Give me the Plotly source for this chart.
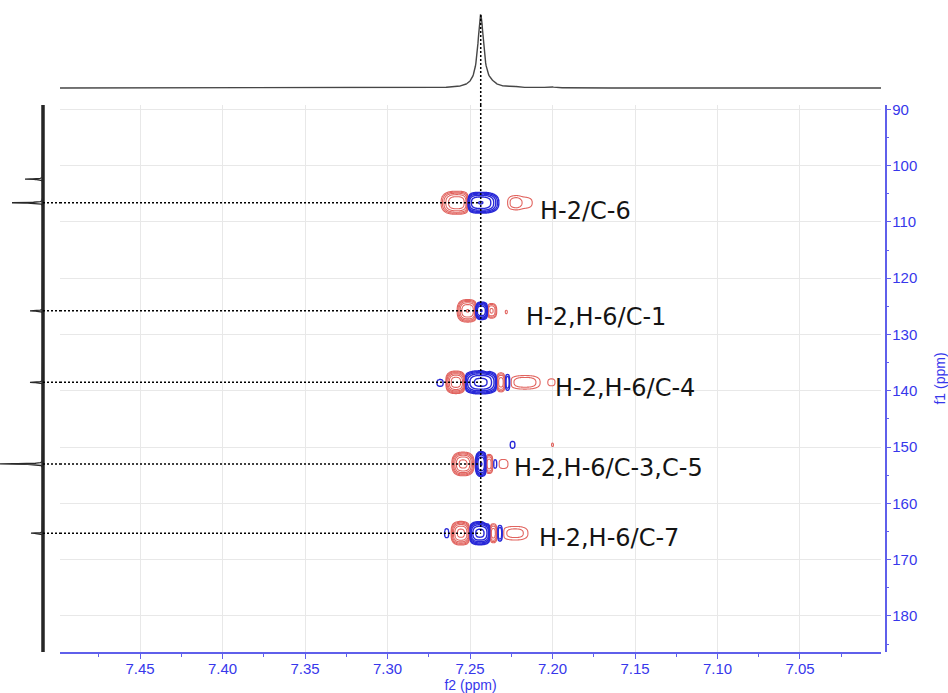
import numpy as np
import plotly.graph_objects as go

# ---------------- data ----------------
# 1D proton projection (f2, top trace): peak positions / heights / half widths
h_ppm = [7.2435, 7.2370, 7.2240, 7.2015]
h_height = [73.0, 2.0, 1.0, 1.2]
h_hwhm = [0.0021, 0.0030, 0.0025, 0.0025]

# 1D carbon projection (f1, left trace)
c_ppm = [102.4, 106.6, 125.8, 138.5, 153.0, 165.3]
c_height = [18.0, 31.0, 13.0, 13.0, 43.0, 12.0]
c_hwhm = [0.06, 0.06, 0.06, 0.06, 0.06, 0.06]

# HMBC correlations
cross_f2 = 7.2435
cross_f1 = [106.6, 125.8, 138.5, 153.0, 165.3]
cross_label = ["H-2/C-6", "H-2,H-6/C-1", "H-2,H-6/C-4", "H-2,H-6/C-3,C-5", "H-2,H-6/C-7"]
label_f2 = [7.2085, 7.2175, 7.1995, 7.2245, 7.2095]
label_f1 = [108.1, 126.9, 139.5, 153.7, 166.1]

# 2D contour components: centre f2, centre f1, signed amplitude,
# half width (f2, ppm) and half height (f1, ppm) of the outermost contour
comp_f2 = [7.2580, 7.2435, 7.2232, 7.2185,
           7.2514, 7.2432, 7.2370, 7.2280,
           7.2680, 7.2585, 7.2435, 7.2314, 7.2273, 7.2167, 7.2005, 7.2400,
           7.2542, 7.2432, 7.2385, 7.2348, 7.2298, 7.2242, 7.2000,
           7.2640, 7.2555, 7.2440, 7.2360, 7.2318, 7.2227, 7.2405]
comp_f1 = [106.6, 106.6, 106.6, 106.6,
           125.8, 125.8, 125.8, 126.0,
           138.6, 138.5, 138.5, 138.5, 138.5, 138.5, 138.5, 136.3,
           153.0, 153.0, 153.0, 153.0, 153.0, 149.6, 149.6,
           165.3, 165.3, 165.3, 165.3, 165.3, 165.3, 163.4]
comp_amp = [-0.9, 1.0, -0.06, -0.065,
            -1.0, 1.0, -0.3, -0.045,
            0.05, -1.5, 1.2, -0.4, 0.15, -0.12, -0.05, -0.045,
            -1.2, 1.0, -0.4, 0.07, -0.07, 0.05, -0.045,
            0.05, -1.2, 1.2, -0.4, 0.15, -0.1, -0.045]
comp_hw2 = [0.0095, 0.0110, 0.0028, 0.0062,
            0.0064, 0.0046, 0.0032, 0.0006,
            0.0020, 0.0064, 0.0110, 0.0030, 0.0018, 0.0092, 0.0020, 0.0006,
            0.0068, 0.0036, 0.0026, 0.0014, 0.0028, 0.0014, 0.0006,
            0.0014, 0.0062, 0.0072, 0.0026, 0.0018, 0.0078, 0.0006]
comp_hw1 = [2.05, 1.85, 0.85, 1.00,
            2.00, 1.55, 1.30, 0.30,
            0.60, 2.00, 2.05, 1.70, 1.45, 1.20, 0.60, 0.30,
            2.10, 2.20, 1.70, 0.80, 0.80, 0.60, 0.30,
            0.80, 2.10, 2.05, 1.70, 1.45, 1.20, 0.30]

# ---------------- layout geometry ----------------
W, H = 948, 693
X_RANGE = [7.4985, 7.0009]
Y_RANGE = [186.4, 89.24]
TOP_RANGE = [-17, 78]
LEFT_RANGE = [43, -17]

BLUE_AX = "rgb(95,95,235)"
BLUE_TXT = "rgb(55,55,235)"
RED_C = "rgb(225,100,95)"
BLUE_C = "rgb(40,40,215)"
GRID = "rgb(232,232,232)"

def px_x(p):
    return p / W

def px_y(p):
    return 1 - p / H

fig = go.Figure()

# ---------------- contours ----------------
T = 0.04
P = 2.7
gx = np.arange(7.195, 7.2755, 0.0003)
for cf in cross_f1:
    gy = np.arange(cf - 5.0, cf + 5.01, 0.1)
    X, Y = np.meshgrid(gx, gy)
    Z = np.zeros_like(X)
    for i in range(len(comp_f2)):
        if abs(comp_f1[i] - cf) > 5:
            continue
        A = comp_amp[i]
        k = (2 * np.log(abs(A) / T)) ** (1 / P)
        s2 = comp_hw2[i] / k
        s1 = comp_hw1[i] / k
        Z += A * np.exp(-0.5 * (np.abs((X - comp_f2[i]) / s2) ** P +
                                np.abs((Y - comp_f1[i]) / s1) ** P))
    for sign, col, lw in [(-1, RED_C, 1.1), (1, BLUE_C, 1.4)]:
        zz = np.round(np.log10(np.clip(sign * Z, 1e-4, None)), 3)
        fig.add_trace(go.Contour(
            x=np.round(gx, 5), y=np.round(gy, 3), z=zz,
            contours=dict(start=np.log10(T), end=1.0, size=np.log10(1.9), coloring="lines"),
            colorscale=[[0, col], [1, col]], showscale=False,
            line=dict(width=lw, smoothing=1.0), hoverinfo="skip",
            xaxis="x", yaxis="y"))

# ---------------- 1D projections ----------------
hx = np.linspace(X_RANGE[0], X_RANGE[1], 1600)
hy = np.zeros_like(hx)
for p, h, w in zip(h_ppm, h_height, h_hwhm):
    hy += h / (1 + ((hx - p) / w) ** 2)
fig.add_trace(go.Scatter(x=hx, y=np.round(hy, 2), mode="lines",
                         line=dict(color="rgb(70,70,70)", width=1.4),
                         xaxis="x2", yaxis="y2", hoverinfo="skip"))

cy = np.arange(Y_RANGE[1], Y_RANGE[0], 0.01)
cx = np.zeros_like(cy)
for p, h, w in zip(c_ppm, c_height, c_hwhm):
    cx += h / (1 + ((cy - p) / w) ** 2)
fig.add_trace(go.Scatter(x=[0, 0], y=[Y_RANGE[1], Y_RANGE[0]], mode="lines",
                         line=dict(color="rgb(35,35,35)", width=3.5),
                         xaxis="x3", yaxis="y3", hoverinfo="skip"))
fig.add_trace(go.Scatter(x=np.round(cx, 2), y=np.round(cy, 2), mode="lines",
                         line=dict(color="rgb(40,40,40)", width=1.3),
                         xaxis="x3", yaxis="y3", hoverinfo="skip"))

# ---------------- dotted guide lines ----------------
DOT = dict(color="black", width=1.5, dash="2px,2px")
for cf in cross_f1:
    fig.add_trace(go.Scatter(x=[0, LEFT_RANGE[1]], y=[cf, cf], mode="lines", line=DOT,
                             xaxis="x3", yaxis="y3", hoverinfo="skip"))
    fig.add_trace(go.Scatter(x=[X_RANGE[0], cross_f2], y=[cf, cf], mode="lines", line=DOT,
                             xaxis="x", yaxis="y", hoverinfo="skip"))
fig.add_trace(go.Scatter(x=[cross_f2, cross_f2], y=[TOP_RANGE[0], max(h_height)], mode="lines",
                         line=DOT, xaxis="x2", yaxis="y2", hoverinfo="skip"))
fig.add_trace(go.Scatter(x=[cross_f2, cross_f2], y=[Y_RANGE[1], max(cross_f1)], mode="lines",
                         line=DOT, xaxis="x", yaxis="y", hoverinfo="skip"))

# ---------------- labels ----------------
for t, lx, ly in zip(cross_label, label_f2, label_f1):
    fig.add_annotation(x=lx, y=ly, xref="x", yref="y", text=t, showarrow=False,
                       xanchor="left", yanchor="middle",
                       font=dict(family="DejaVu Sans", size=24, color="rgb(20,20,20)"))

# ---------------- axes ----------------
main_xdom = [px_x(60), px_x(881)]
main_ydom = [px_y(652), px_y(105)]
tickfont = dict(family="Liberation Sans, Arial", size=15, color=BLUE_TXT)
titlefont = dict(family="Liberation Sans, Arial", size=14, color=BLUE_TXT)

fig.update_layout(
    width=W, height=H, margin=dict(l=0, r=0, t=0, b=0),
    paper_bgcolor="white", plot_bgcolor="white", showlegend=False,
    xaxis=dict(domain=main_xdom, range=X_RANGE, anchor="y",
               tick0=7.0, dtick=0.05, tickformat=".2f",
               ticks="outside", ticklen=5, tickwidth=1, tickcolor=BLUE_AX,
               ticklabelstandoff=-3,
               minor=dict(dtick=0.025, tick0=7.0, ticks="outside", ticklen=3,
                          tickcolor=BLUE_AX, showgrid=False),
               showline=True, linecolor=BLUE_AX, linewidth=1.5,
               showgrid=True, gridcolor=GRID, gridwidth=1, zeroline=False,
               tickfont=tickfont, automargin=False,
               title=dict(text="f2 (ppm)", font=titlefont, standoff=4)),
    yaxis=dict(domain=main_ydom, range=Y_RANGE, anchor="free", position=px_x(885.5),
               side="right", tick0=0, dtick=10,
               ticks="outside", ticklen=5, tickwidth=1, tickcolor=BLUE_AX,
               ticklabelstandoff=-2,
               minor=dict(dtick=5, tick0=0, ticks="outside", ticklen=3,
                          tickcolor=BLUE_AX, showgrid=False),
               showline=True, linecolor=BLUE_AX, linewidth=1.5,
               showgrid=True, gridcolor=GRID, gridwidth=1, zeroline=False,
               tickfont=tickfont, automargin=False,
               title=dict(text="f1 (ppm)", font=titlefont, standoff=18)),
    xaxis2=dict(domain=main_xdom, range=X_RANGE, anchor="y2", visible=False),
    yaxis2=dict(domain=[px_y(105), px_y(10)], range=TOP_RANGE, anchor="x2", visible=False),
    xaxis3=dict(domain=[0, px_x(60)], range=LEFT_RANGE, anchor="y3", visible=False),
    yaxis3=dict(domain=main_ydom, range=Y_RANGE, anchor="x3", visible=False),
)

fig.write_html("out.html")
